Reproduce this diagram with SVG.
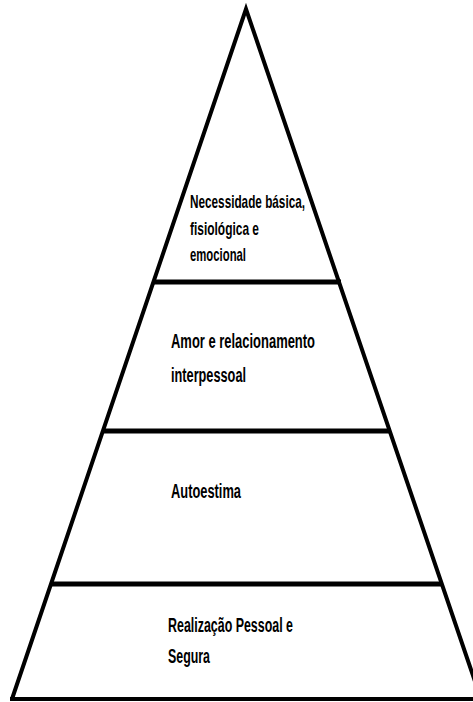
<svg xmlns="http://www.w3.org/2000/svg" width="473" height="702" viewBox="0 0 473 702">
  <style>
    .edge { fill: none; stroke: #000; stroke-width: 4; stroke-linejoin: miter; stroke-miterlimit: 20; }
    .bar { stroke: #000; stroke-width: 5; }
    .lbl { font-family: "Liberation Sans", Arial, sans-serif; font-weight: bold; font-size: 20px; fill: #000; }
    .sm { font-size: 19px; }
  </style>
  <rect x="0" y="0" width="473" height="702" fill="#fff"/>

  <!-- pyramid outline and level dividers -->
  <g id="outline">
    <polyline class="edge" points="12,699 246,9 481,699"/>
    <line class="edge" x1="10" y1="699" x2="473" y2="699"/>
    <line class="bar" x1="153" y1="282" x2="341" y2="282"/>
    <line class="bar" x1="102" y1="431" x2="391" y2="431"/>
    <line class="bar" x1="50" y1="584" x2="443" y2="584"/>
  </g>

  <g id="level-top">
    <text class="lbl sm" x="190" y="208" textLength="115" lengthAdjust="spacingAndGlyphs">Necessidade básica,</text>
    <text class="lbl sm" x="190" y="235" textLength="69" lengthAdjust="spacingAndGlyphs">fisiológica e</text>
    <text class="lbl sm" x="190" y="261" textLength="56" lengthAdjust="spacingAndGlyphs">emocional</text>
  </g>

  <g id="level-2">
    <text class="lbl" x="171" y="348" textLength="144" lengthAdjust="spacingAndGlyphs">Amor e relacionamento</text>
    <text class="lbl" x="171" y="382" textLength="75" lengthAdjust="spacingAndGlyphs">interpessoal</text>
  </g>

  <g id="level-3">
    <text class="lbl" x="171" y="498" textLength="70" lengthAdjust="spacingAndGlyphs">Autoestima</text>
  </g>

  <g id="level-base">
    <text class="lbl" x="168" y="632" textLength="125" lengthAdjust="spacingAndGlyphs">Realização Pessoal e</text>
    <text class="lbl" x="168" y="663" textLength="42" lengthAdjust="spacingAndGlyphs">Segura</text>
  </g>
</svg>
